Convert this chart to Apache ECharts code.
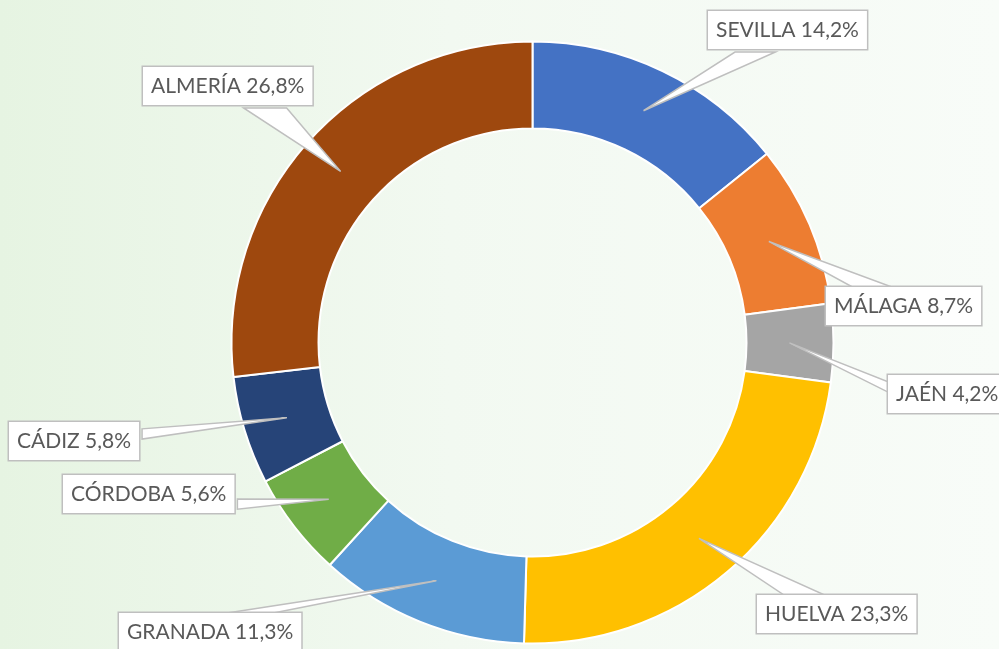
<!DOCTYPE html>
<html>
<head>
<meta charset="utf-8">
<script src="https://cdn.jsdelivr.net/npm/echarts@6/dist/echarts.min.js"></script>
<style>
html,body{margin:0;padding:0;}
#c{width:999px;height:649px;}
</style>
</head>
<body>
<div id="c"></div>
<script>
// ---- data ----
var provinces = ['SEVILLA', 'MÁLAGA', 'JAÉN', 'HUELVA', 'GRANADA', 'CÓRDOBA', 'CÁDIZ', 'ALMERÍA'];
var shares = [14.2, 8.7, 4.2, 23.3, 11.3, 5.6, 5.8, 26.8];
var colors = ['#4472C4', '#ED7D31', '#A5A5A5', '#FFC000', '#5B9BD5', '#70AD47', '#264478', '#9E480E'];

// ---- layout (label box top-left corners) ----
var labelBoxes = [[708, 11], [826, 287], [888, 375], [757, 595], [119, 613], [63, 475], [9, 422], [143, 67]];

var chart = echarts.init(document.getElementById('c'), null, {renderer: 'canvas'});

var ringData = provinces.map(function (p, i) {
  return {name: p, value: shares[i], itemStyle: {color: colors[i]}};
});
var labelData = provinces.map(function (p, i) {
  return {name: p, value: shares[i]};
});

function wedge(anchor, r) {
  // Office-style rectangular callout wedge
  var hc = r.x + r.width / 2, vc = r.y + r.height / 2;
  var dx = anchor[0] - hc, dy = anchor[1] - vc;
  var dq = dx * r.height / r.width;
  var p1, p2;
  if (Math.abs(dy) > Math.abs(dq)) {
    var g1 = dx > 0 ? 7 : 2, g2 = dx > 0 ? 10 : 5;
    var yy = dy > 0 ? r.y + r.height : r.y;
    p1 = [r.x + r.width * g1 / 12, yy];
    p2 = [r.x + r.width * g2 / 12, yy];
  } else {
    var h1 = dy > 0 ? 7 : 2, h2 = dy > 0 ? 10 : 5;
    var xx = dx > 0 ? r.x + r.width : r.x;
    p1 = [xx, r.y + r.height * h1 / 12];
    p2 = [xx, r.y + r.height * h2 / 12];
  }
  return [anchor.slice(), p1, p2, anchor.slice()];
}

var option = {
  animation: false,
  backgroundColor: new echarts.graphic.LinearGradient(0, 0, 1, 0, [
    {offset: 0, color: '#e6f4e2'},
    {offset: 0.45, color: '#f2f9f1'},
    {offset: 1, color: '#f8fcf8'}
  ]),
  series: [
    {
      type: 'pie',
      center: [532.5, 342.5],
      radius: [214, 301],
      startAngle: 90,
      clockwise: true,
      silent: true,
      avoidLabelOverlap: false,
      itemStyle: {borderColor: '#ffffff', borderWidth: 2},
      label: {show: false},
      labelLine: {show: false},
      data: ringData
    },
    {
      type: 'pie',
      center: [532.5, 342.5],
      radius: [0, 257],
      startAngle: 90,
      clockwise: true,
      silent: true,
      avoidLabelOverlap: false,
      z: 5,
      itemStyle: {color: 'rgba(0,0,0,0)'},
      label: {
        show: true,
        position: 'outside',
        formatter: function (p) {
          return p.name + ' ' + String(p.value).replace('.', ',') + '%';
        },
        fontFamily: 'Lato',
        fontSize: 21,
        lineHeight: 22,
        color: '#595959',
        backgroundColor: '#ffffff',
        borderColor: '#bfbfbf',
        borderWidth: 1.5,
        padding: [8, 8, 8, 8]
      },
      labelLine: {
        show: true,
        length: 10,
        length2: 10,
        lineStyle: {color: '#bfbfbf', width: 1.5}
      },
      labelLayout: function (params) {
        var b = labelBoxes[params.dataIndex];
        var rect = {x: b[0], y: b[1], width: params.labelRect.width, height: params.labelRect.height};
        var anchor = params.labelLinePoints ? params.labelLinePoints[0] : [0, 0];
        return {
          x: b[0],
          y: b[1],
          align: 'left',
          verticalAlign: 'top',
          labelLinePoints: wedge(anchor, rect)
        };
      },
      data: labelData
    }
  ]
};

chart.setOption(option);

// give the callout wedges a white fill
function fillWedges() {
  var list = chart.getZr().storage.getDisplayList(true);
  list.forEach(function (el) {
    if (el.type === 'polyline') {
      el.setStyle({fill: '#ffffff'});
    }
  });
  chart.getZr().refreshImmediately();
}
fillWedges();
</script>
</body>
</html>
